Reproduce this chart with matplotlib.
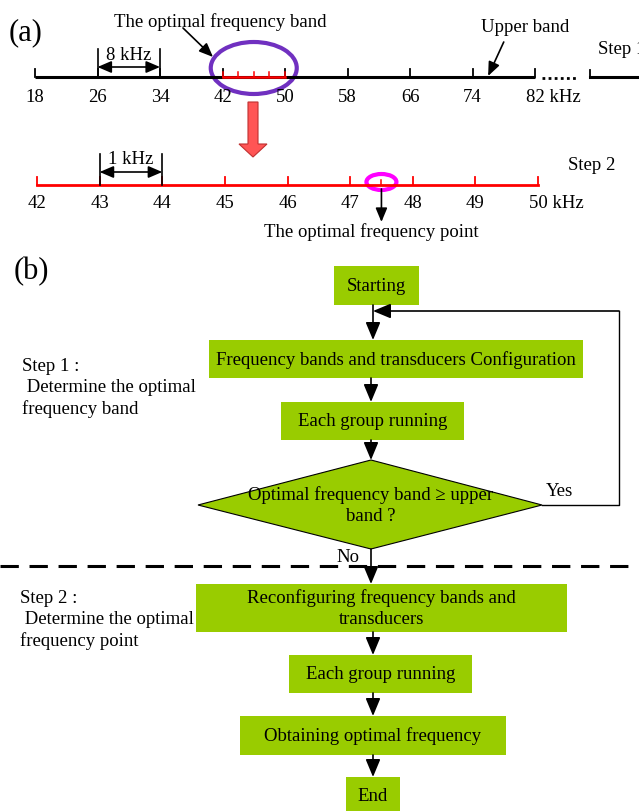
import matplotlib
matplotlib.use("Agg")
import matplotlib.pyplot as plt
from matplotlib.patches import Ellipse, Rectangle, Polygon

plt.rcParams['font.family'] = ['Liberation Serif', 'DejaVu Serif']

# step 1 scan: coarse bands (kHz)
coarse_ticks = [18, 26, 34, 42, 50, 58, 66, 74, 82]
best_band = [42, 44, 46, 48, 50]
upper_band = 76
# step 2 scan: fine points (kHz)
fine_ticks = [42, 43, 44, 45, 46, 47, 48, 49, 50]
best_point = 47.5

# flowchart steps: (label, x0, x1, y0, y1) in pixels
steps = [
    ("Starting", 334, 419, 267, 306),
    ("Frequency bands and transducers Configuration", 209, 583, 341, 379),
    ("Each group running", 281, 464, 403, 441),
    ("Reconfiguring frequency bands and\ntransducers", 196, 567, 585, 633),
    ("Each group running", 289, 472, 656, 694),
    ("Obtaining optimal frequency", 240, 506, 717, 756),
    ("End", 346, 400, 778, 815),
]
decision = "Optimal frequency band \u2265 upper\nband ?"

W, H = 639, 812
fig = plt.figure(figsize=(W / 100, H / 100), dpi=100)
ax = fig.add_axes([0, 0, 1, 1])
ax.set_xlim(0, W)
ax.set_ylim(H, 0)
ax.axis('off')

FS = 13.5
LS = 1.3
GREEN = '#99CC00'


def arrow(a, xy, xytext, ms=18, style='-|>,head_length=0.6,head_width=0.25', lw=1.2, color='k'):
    a.annotate("", xy=xy, xytext=xytext,
               arrowprops=dict(arrowstyle=style, mutation_scale=ms, lw=lw, color=color,
                               shrinkA=0, shrinkB=0))


# ---------------- (a) coarse number line ----------------
ppk1 = (535 - 35) / (82 - 18)
ax1 = fig.add_axes([0, 0, 1, 1], facecolor='none')
ax1.set_xlim(18 - 35 / ppk1, 18 + (W - 35) / ppk1)
ax1.set_ylim(H, 0)
ax1.axis('off')

y1 = 78
ax1.plot([coarse_ticks[0], coarse_ticks[-1]], [y1, y1], color='k', lw=2.2, solid_capstyle='butt')
for t in coarse_ticks:
    ax1.plot([t, t], [y1, y1 - 8], color='k', lw=1.3)
    if t == coarse_ticks[-1]:
        ax1.text(t - 1.1, 97, f"{t} kHz", ha='left', va='center', fontsize=FS)
    else:
        ax1.text(t, 97, f"{t}", ha='center', va='center', fontsize=FS)
# broken continuation to the right
ax1.plot([82.9, 87.3], [y1 + 1, y1 + 1], color='k', lw=2.0, ls=(0, (1, 1.2)))
ax1.plot([89.0, 89.0], [y1, y1 - 7], color='k', lw=1.3)
ax1.plot([89.0, 96], [y1, y1], color='k', lw=2.2)
ax.text(598, 49, "Step 1", fontsize=FS, va='center', ha='left')

# optimal band highlighted in red
ax1.plot([best_band[0], best_band[-1]], [y1, y1], color='red', lw=1.8)
for t in best_band:
    ax1.plot([t, t], [y1, y1 - 5], color='red', lw=1.1)
ax1.add_patch(Ellipse((46, 69), 86 / ppk1, 52, fill=False, ec='#7030C0', lw=3))
ax.text(220, 22, "The optimal frequency band", fontsize=FS, ha='center', va='center')
arrow(ax, (213, 58), (183, 29), ms=14)

# upper band pointer
ax.text(525, 27, "Upper band", fontsize=FS, ha='center', va='center')
arrow(ax1, (upper_band, y1 - 1), (upper_band + 2, 43), ms=14)

# 8 kHz spacing
for t in (26, 34):
    ax1.plot([t, t], [50, y1], color='k', lw=1.2)
arrow(ax1, (34, 68), (26, 68), ms=12, style='<|-|>,head_length=0.7,head_width=0.3')
ax1.text(30, 55, "8 kHz", fontsize=FS, ha='center', va='center')

ax.text(9, 33, "(a)", fontsize=22, ha='left', va='center')

# block arrow between the two scans
ax.add_patch(Polygon([(248, 103), (258, 103), (258, 145), (267, 145), (253, 158),
                      (239, 145), (248, 145)], closed=True, fc='#FF5555', ec='#C03030', lw=0.8))

# ---------------- fine number line ----------------
ppk2 = (538 - 37) / (50 - 42)
ax2 = fig.add_axes([0, 0, 1, 1], facecolor='none')
ax2.set_xlim(42 - 37 / ppk2, 42 + (W - 37) / ppk2)
ax2.set_ylim(H, 0)
ax2.axis('off')

y2 = 186
ax2.plot([fine_ticks[0], fine_ticks[-1]], [y2, y2], color='red', lw=2.0)
for t in fine_ticks:
    ax2.plot([t, t], [y2, y2 - 8], color='red', lw=1.3)
    if t == fine_ticks[-1]:
        ax2.text(t - 0.14, 203, f"{t} kHz", ha='left', va='center', fontsize=FS)
    else:
        ax2.text(t, 203, f"{t}", ha='center', va='center', fontsize=FS)
ax2.plot([best_point, best_point], [y2, y2 - 5], color='red', lw=1.1)
ax2.add_patch(Ellipse((best_point, 183), 30 / ppk2, 16, fill=False, ec='#FF00FF', lw=3))
arrow(ax2, (best_point, 223), (best_point, 190), ms=14)
ax.text(371, 232, "The optimal frequency point", fontsize=FS, ha='center', va='center')
ax.text(568, 165, "Step 2", fontsize=FS, ha='left', va='center')

# 1 kHz spacing
for t in (43, 44):
    ax2.plot([t, t], [155, y2], color='k', lw=1.2)
arrow(ax2, (44, 173), (43, 173), ms=12, style='<|-|>,head_length=0.7,head_width=0.3')
ax2.text(43.5, 160, "1 kHz", fontsize=FS, ha='center', va='center')

# ---------------- (b) flowchart ----------------
ax.text(14, 272, "(b)", fontsize=22, ha='left', va='center')

for label, x0, x1, yt, yb in steps:
    ax.add_patch(Rectangle((x0, yt), x1 - x0, yb - yt, fc=GREEN, ec='none'))
    ax.text((x0 + x1) / 2, (yt + yb) / 2, label, fontsize=FS, ha='center', va='center',
            linespacing=LS)

# decision diamond
ax.add_patch(Polygon([(371, 461), (542, 506), (371, 550), (198, 506)], closed=True,
                     fc=GREEN, ec='k', lw=0.8))
ax.text(371, 506, decision, fontsize=FS, ha='center', va='center', linespacing=LS)

# connectors
arrow(ax, (373, 341), (373, 306))
arrow(ax, (371, 403), (371, 379))
arrow(ax, (371, 461), (371, 441))
arrow(ax, (371, 585), (371, 550))
arrow(ax, (373, 656), (373, 633))
arrow(ax, (373, 717), (373, 694))
arrow(ax, (373, 778), (373, 756))

# "Yes" loop back to configuration
ax.plot([542, 619, 619], [506, 506, 312], color='k', lw=1.0)
arrow(ax, (373, 312), (619, 312))
ax.text(546, 492, "Yes", fontsize=FS, ha='left', va='center')
ax.text(336, 558, "No", fontsize=FS, ha='left', va='center')

# step divider
ax.plot([0, W], [567, 567], color='k', lw=2.2, ls=(0, (6, 3.5)))

ax.text(22, 388, "Step 1 :\n Determine the optimal\nfrequency band", fontsize=FS,
        ha='left', va='center', linespacing=LS)
ax.text(20, 620, "Step 2 :\n Determine the optimal\nfrequency point", fontsize=FS,
        ha='left', va='center', linespacing=LS)

fig.savefig("out.png", dpi=100)
